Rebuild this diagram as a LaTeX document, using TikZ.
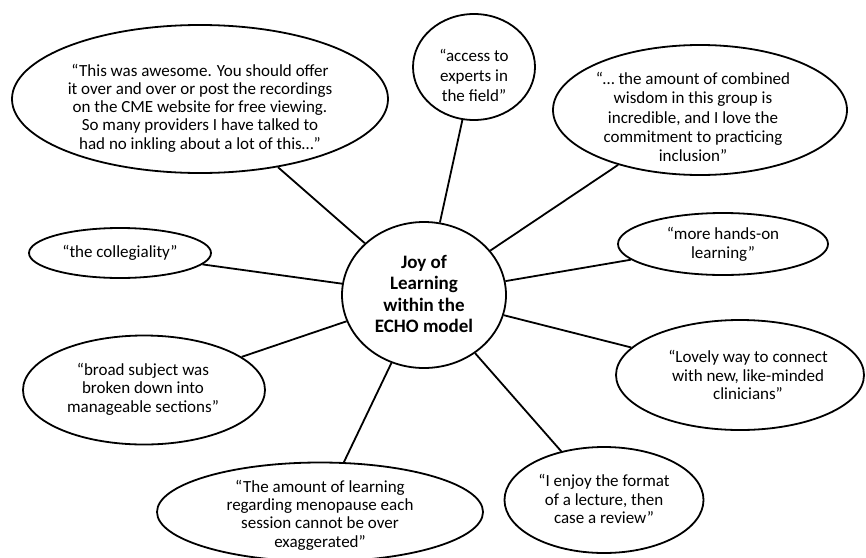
\documentclass[tikz,border=0pt]{standalone}
\usepackage{fontspec}
\setmainfont{Carlito}
\usetikzlibrary{shapes.geometric}
\begin{document}
\begin{tikzpicture}[x=1pt,y=-1pt,
  bubble/.style={draw=black,line width=1.8pt,ellipse,inner sep=0pt,fill=white},
  quote/.style={align=center,inner sep=0pt,font=\fontsize{17}{18.8}\selectfont},
  title/.style={align=center,inner sep=0pt,font=\fontsize{19}{21.5}\selectfont\bfseries},
  link/.style={draw=black,line width=1.8pt}]
\useasboundingbox[fill=white] (0,0) rectangle (866,557);
\clip (0,0) rectangle (866,557);

% outer bubbles
\node[bubble,minimum width=376pt,minimum height=148pt] (awesome) at (200,99) {};
\node[bubble,minimum width=122pt,minimum height=106pt] (experts) at (474,67) {};
\node[bubble,minimum width=294pt,minimum height=130pt] (wisdom) at (700,110) {};
\node[bubble,minimum width=210pt,minimum height=62pt] (hands) at (723,244) {};
\node[bubble,minimum width=248pt,minimum height=110pt] (lovely) at (740,375) {};
\node[bubble,minimum width=199pt,minimum height=106pt] (format) at (604,500) {};
\node[bubble,minimum width=326pt,minimum height=99pt] (amount) at (320,512) {};
\node[bubble,minimum width=242pt,minimum height=109pt] (broad) at (144,390) {};
\node[bubble,minimum width=182pt,minimum height=50pt] (colleg) at (120,253) {};

% centre bubble
\node[bubble,minimum width=164pt,minimum height=146pt] (joy) at (424,295) {};

% spokes
\foreach \q in {awesome,experts,wisdom,hands,lovely,format,amount,broad,colleg}
  \path[link] (\q) -- (joy);

% texts
\node[title] (joyt) at (424,294) {Joy of\\Learning\\within the\\ECHO model};
\node[quote,font=\fontsize{17}{18.3}\selectfont] (awesomet) at (200,108)
  {“This was awesome. You should offer\\it over and over or post the recordings\\on the CME website for free viewing.\\So many providers I have talked to\\had no inkling about a lot of this…”};
\node[quote,font=\fontsize{17}{20}\selectfont] (expertst) at (474,75) {“access to\\experts in\\the field”};
\node[quote,font=\fontsize{17}{19.3}\selectfont] (wisdomt) at (693,117)
  {“… the amount of combined\\wisdom in this group is\\incredible, and I love the\\commitment to practicing\\inclusion”};
\node[quote] (handst) at (723,244) {“more hands-on\\learning”};
\node[quote,font=\fontsize{17}{18.3}\selectfont] (lovelyt) at (748,375) {“Lovely way to connect\\with new, like-minded\\clinicians”};
\node[quote] (formatt) at (604,499) {“I enjoy the format\\of a lecture, then\\case a review”};
\node[quote,font=\fontsize{17}{18.3}\selectfont] (amountt) at (320,515)
  {“The amount of learning\\regarding menopause each\\session cannot be over\\exaggerated”};
\node[quote,font=\fontsize{17}{18.5}\selectfont] (broadt) at (143,389) {“broad subject was\\broken down into\\manageable sections”};
\node[quote] (collegt) at (120,253) {“the collegiality”};
\end{tikzpicture}
\end{document}
